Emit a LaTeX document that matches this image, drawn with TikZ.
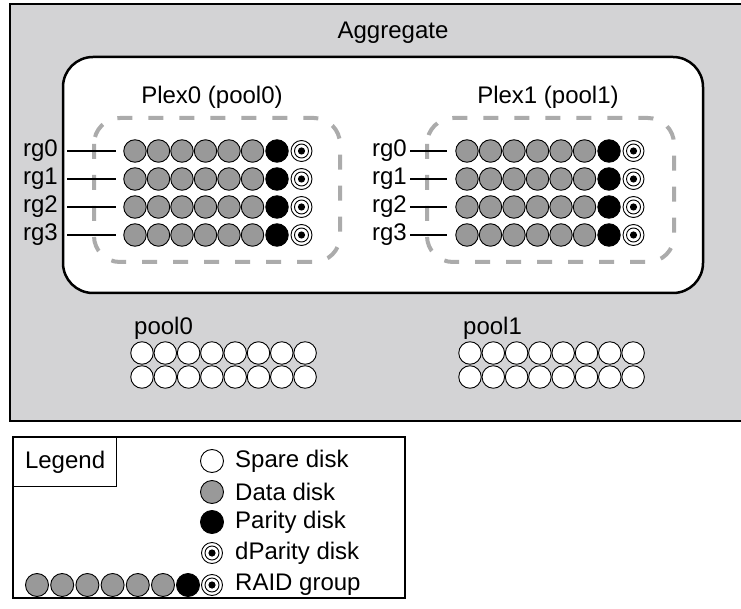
\documentclass[tikz,border=0pt]{standalone}
\usepackage{fontspec}
\setmainfont{Liberation Sans}
\definecolor{aggfill}{HTML}{D3D3D5}
\definecolor{dashgray}{HTML}{ABABAB}
\definecolor{datagray}{HTML}{999999}
\begin{document}
\begin{tikzpicture}[x=1pt,y=-1pt,
  txt/.style={inner sep=1pt, font=\fontsize{24}{28}\selectfont},
  disk/.style={circle, draw=black, line width=0.9pt, minimum size=22.5pt, inner sep=0pt},
  spare/.style={disk, fill=white},
  data/.style={disk, fill=datagray},
  parity/.style={disk, fill=black},
  dpar/.style={disk, fill=white, minimum size=21pt},
  dring/.style={circle, draw=black, line width=0.9pt, minimum size=14pt, inner sep=0pt},
  plexbox/.style={draw=dashgray, line width=4pt, dash pattern=on 15pt off 16pt, rounded corners=26pt},
  rgline/.style={draw=black, line width=1.1pt}
]
\useasboundingbox (0,0) rectangle (741,609);
% aggregate
\draw[fill=aggfill, line width=2.5pt] (10,4) rectangle (745,421);
\node[txt] (agg) at (393,33) {Aggregate};
\draw[fill=white, line width=2.5pt, rounded corners=30pt] (63,57) rectangle (703,293);
\node[txt] (plex0) at (212,97) {Plex0 (pool0)};
\node[txt] (plex1) at (548,97) {Plex1 (pool1)};
\draw[plexbox] (94,118) rectangle (340,262);
\draw[plexbox] (427,118) rectangle (674,262);
% RAID groups
\foreach \g/\xs/\lx/\sa/\sb in {L/135/59/8/7, R/467/408/2/8}{
  \foreach \r/\y in {0/151,1/179,2/207,3/235}{
    \node[txt, anchor=east] (rg\g\r) at (\lx,\y) {rg\r};
    \foreach \i in {1,...,6}{
      \node[data] (d\g\r-\i) at ({\xs+(\i-1)*23.5},\y) {};
    }
    \node[parity] (p\g\r) at ({\xs+6*23.5+1},\y) {};
    \node[dpar] (q\g\r) at ({\xs+7*23.5+2},\y) {};
    \node[dring] (qr\g\r) at (q\g\r.center) {};
    \fill (q\g\r.center) circle[radius=3.6pt];
    \draw[rgline, shorten <=\sa pt, shorten >=\sb pt] (rg\g\r.east) -- (d\g\r-1.west);
  }
}
% spare pools
\node[txt, anchor=west] (pool0) at (133,328) {pool0};
\node[txt, anchor=west] (pool1) at (462,328) {pool1};
\foreach \p/\xs in {0/142, 1/470}{
  \foreach \r/\y in {a/353,b/377}{
    \foreach \i in {1,...,8}{
      \node[spare] (s\p\r\i) at ({\xs+(\i-1)*23.3},\y) {};
    }
  }
}
% legend
\draw[line width=1.2pt] (13,437) rectangle (405,598);
\node[draw, line width=1.2pt, minimum width=103pt, minimum height=49pt, anchor=north west, inner sep=0pt] (leghead) at (13,437) {};
\node[txt] (legend) at (leghead.center) {Legend};
\node[spare, minimum size=23pt] (lsp) at (212,461) {};
\node[txt, anchor=west] (tsp) at (234,461) {Spare disk};
\node[data, minimum size=23pt] (lda) at (212,492) {};
\node[txt, anchor=west] (tda) at (234,492) {Data disk};
\node[parity, minimum size=23pt] (lpa) at (212,522) {};
\node[txt, anchor=west] (tpa) at (234,522) {Parity disk};
\node[dpar] (ldp) at (212,553) {};
\node[dring] (ldpr) at (ldp.center) {};
\fill (ldp.center) circle[radius=3.6pt];
\node[txt, anchor=west] (tdp) at (234,553) {dParity disk};
\foreach \i in {1,...,6}{
  \node[data, minimum size=23pt] (ld\i) at ({37+(\i-1)*25.2},585) {};
}
\node[parity, minimum size=23pt] (lrp) at (188,585) {};
\node[dpar] (lrq) at (212,585) {};
\node[dring] (lrqr) at (lrq.center) {};
\fill (lrq.center) circle[radius=3.6pt];
\node[txt, anchor=west] (trg) at (234,585) {RAID group};
\end{tikzpicture}
\end{document}
